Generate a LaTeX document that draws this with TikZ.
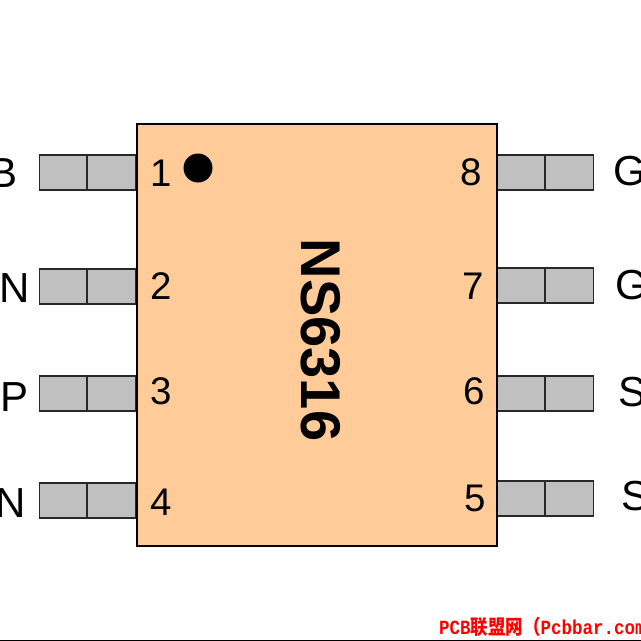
\documentclass[tikz,border=0pt]{standalone}
\usepackage{fontspec}
\setmainfont{Liberation Sans}
\newfontfamily\wmlatin{Liberation Mono}
\newfontfamily\wmcjk{Noto Sans CJK SC}
\definecolor{bodyfill}{RGB}{255,204,153}
\definecolor{pinfill}{RGB}{192,192,192}
\definecolor{edgegray}{RGB}{40,40,40}
\tikzset{
  pinbox/.style={draw=edgegray,fill=pinfill,line width=1.1pt,minimum width=48.5pt,minimum height=35pt,inner sep=0pt,outer sep=0pt,anchor=north west},
  numlabel/.style={font=\fontsize{38.5}{38.5}\selectfont,inner sep=0pt,text=black},
  sidelabel/.style={font=\fontsize{42}{42}\selectfont,inner sep=0pt,text=black},
}
\begin{document}
\begin{tikzpicture}[x=1pt,y=-1pt]
\useasboundingbox (0,0) rectangle (641,641);
\clip (0,0) rectangle (641,641);
\fill[white] (0,0) rectangle (641,641);
% left pins
\node[pinbox] (l1a) at (39.5,155) {}; \node[pinbox] (l1b) at (87,155) {};
\node[pinbox] (l2a) at (39.5,269) {}; \node[pinbox] (l2b) at (87,269) {};
\node[pinbox] (l3a) at (39.5,376) {}; \node[pinbox] (l3b) at (87,376) {};
\node[pinbox] (l4a) at (39.5,483) {}; \node[pinbox] (l4b) at (87,483) {};
% right pins
\node[pinbox] (r8a) at (497,155) {}; \node[pinbox] (r8b) at (545,155) {};
\node[pinbox] (r7a) at (497,268) {}; \node[pinbox] (r7b) at (545,268) {};
\node[pinbox] (r6a) at (497,376) {}; \node[pinbox] (r6b) at (545,376) {};
\node[pinbox] (r5a) at (497,481) {}; \node[pinbox] (r5b) at (545,481) {};
% body
\node[draw=black,fill=bodyfill,line width=1.8pt,minimum width=360pt,minimum height=422pt,inner sep=0pt,outer sep=0pt,anchor=north west] (body) at (137,124) {};
\node[circle,fill=black,minimum size=29pt,inner sep=0pt] (dot) at (198,168) {};
\node[numlabel] (n1) at (161,173) {1};
\node[numlabel] (n2) at (161,286) {2};
\node[numlabel] (n3) at (161,391) {3};
\node[numlabel] (n4) at (161,502) {4};
\node[numlabel] (n8) at (471,172) {8};
\node[numlabel] (n7) at (473,286) {7};
\node[numlabel] (n6) at (474,391) {6};
\node[numlabel] (n5) at (475,498) {5};
\node[font=\fontsize{56}{56}\selectfont\bfseries,rotate=-90,inner sep=0pt] (title) at (321,340) {NS6316};
% side labels (cut by the picture edge)
\node[sidelabel,anchor=east] (lb1) at (18,173) {B};
\node[sidelabel,anchor=east] (lb2) at (30,288) {N};
\node[sidelabel,anchor=east] (lb3) at (29,397) {P};
\node[sidelabel,anchor=east] (lb4) at (26,503) {N};
\node[sidelabel,anchor=west] (rb8) at (613,171) {G};
\node[sidelabel,anchor=west] (rb7) at (615,285) {G};
\node[sidelabel,anchor=west] (rb6) at (618,392) {S};
\node[sidelabel,anchor=west] (rb5) at (621,496) {S};
% watermark
\node[anchor=west,inner sep=0pt,text=red,yscale=1.15,font=\fontsize{17.5}{17.5}\selectfont\bfseries] (wm) at (439,626.5) {\wmlatin PCB\wmcjk 联盟网（\wmlatin Pcbbar.com\wmcjk ）};
\draw[black,line width=1.6pt] (0,640.3) -- (641,640.3);
\end{tikzpicture}
\end{document}
